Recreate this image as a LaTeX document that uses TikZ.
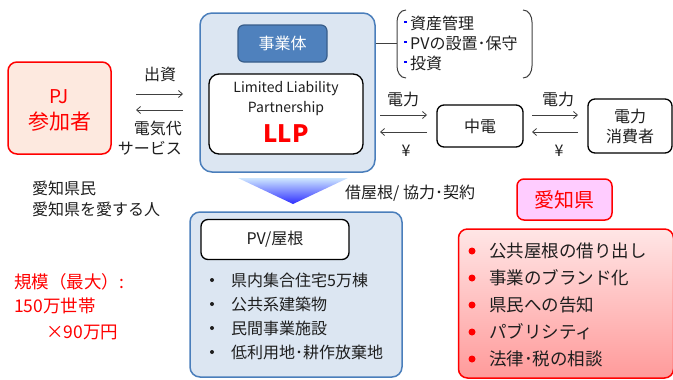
\documentclass[tikz,border=0pt]{standalone}
\usepackage{fontspec}
\setmainfont{Noto Sans CJK JP}
\usetikzlibrary{arrows.meta}
\definecolor{txt}{HTML}{1E1E1E}
\definecolor{arrgray}{HTML}{404040}
\definecolor{bluefill}{HTML}{DCE6F2}
\definecolor{blueline}{HTML}{4A7EBB}
\definecolor{jigyofill}{HTML}{4F81BD}
\definecolor{jigyoline}{HTML}{385D8A}
\definecolor{pjfill}{HTML}{FDE9DF}
\definecolor{aichifill}{HTML}{FFCCFF}
\definecolor{redtop}{HTML}{FFE6E6}
\definecolor{redbot}{HTML}{FF9A9A}
\definecolor{tritop}{HTML}{CDE6FF}
\definecolor{tribot}{HTML}{2E2EFF}
\begin{document}
\begin{tikzpicture}[x=1pt,y=-1pt,
  every node/.style={font=\fontsize{16}{19}\selectfont, text=txt, inner sep=0pt},
  arr/.style={draw=arrgray, line width=0.8pt, -{Straight Barb[length=4pt,width=7pt]}},
  blackbox/.style={draw=black, line width=1.3pt, rounded corners=7pt, fill=white},
  bluebox/.style={draw=blueline, line width=1.5pt, rounded corners=12pt, fill=bluefill},
  redbullet/.style={circle, fill=red, minimum size=7pt},
  blkbullet/.style={circle, fill=txt, minimum size=4pt},
  bluesq/.style={rectangle, fill=blue, minimum size=2.6pt},
  redtext/.style={text=red}
]
\path[use as bounding box] (0,0) rectangle (673,380);

% PJ participant
\node[draw=red, line width=1.5pt, rounded corners=9pt, fill=pjfill,
      minimum width=103pt, minimum height=92pt] (pj) at (59.5,108) {};
\node[redtext, font=\fontsize{19}{22}\selectfont] (pjt1) at (59.5,97) {PJ};
\node[redtext, font=\fontsize{21}{24}\selectfont] (pjt2) at (59.5,122) {参加者};

% main LLP box
\node[bluebox, minimum width=175pt, minimum height=159pt] (main) at (287.5,92.5) {};
\node[draw=jigyoline, line width=1.2pt, fill=jigyofill, rounded corners=6pt,
      minimum width=89pt, minimum height=37pt, text=white] (jigyo) at (282.5,43.5) {事業体};
\node[blackbox, rounded corners=10pt, minimum width=154pt, minimum height=80pt] (llp) at (286,114) {};
\node[font=\fontsize{14}{16}\selectfont] (llpt1) at (286,89) {Limited Liability};
\node[font=\fontsize{14}{16}\selectfont] (llpt2) at (286,109) {Partnership};
\node[redtext, font=\fontsize{24}{26}\bfseries] (llpt3) at (286,134) {LLP};

% arrows PJ <-> main
\coordinate (a1s) at (136,94); \coordinate (a1e) at (183,94);
\coordinate (a2s) at (183,110); \coordinate (a2e) at (136,110);
\draw[arr] (a1s) -- (a1e);
\draw[arr] (a2s) -- (a2e);
\node (shushi) at (160,74) {出資};
\node[anchor=east, align=right] (denki) at (182,138) {電気代\\[1pt]サービス};

% bracket list
\coordinate (brl) at (397,43);
\draw[draw=arrgray, line width=1pt] (main.east |- brl) -- (brl);
\draw[draw=arrgray, line width=1pt] (406,10) to[out=180,in=90] (397,22) -- (397,66) to[out=-90,in=180] (406,78);
\draw[draw=arrgray, line width=1pt] (523,10) to[out=0,in=90] (532,22) -- (532,66) to[out=-90,in=0] (523,78);
\node[bluesq] (q1) at (405.5,22) {};
\node[bluesq] (q2) at (405.5,42) {};
\node[bluesq] (q3) at (405.5,62) {};
\node[anchor=west] (b1) at (410,23) {資産管理};
\node[anchor=west] (b2) at (410,43) {PVの設置･保守};
\node[anchor=west] (b3) at (410,63) {投資};

% Chuden
\node[blackbox, minimum width=86pt, minimum height=42pt] (chuden) at (480,126) {中電};
\node[blackbox, minimum width=84pt, minimum height=54pt, align=center, font=\fontsize{16}{20}\selectfont] (cons) at (630,126) {電力\\消費者};

\coordinate (c1s) at (380,115); \coordinate (c1e) at (427,115);
\coordinate (c2s) at (427,132); \coordinate (c2e) at (380,132);
\draw[arr] (c1s) -- (c1e);
\draw[arr] (c2s) -- (c2e);
\node (den1) at (403,99) {電力};
\node (yen1) at (406,151) {¥};

\coordinate (d1s) at (532,115); \coordinate (d1e) at (578,115);
\coordinate (d2s) at (578,132); \coordinate (d2e) at (532,132);
\draw[arr] (d1s) -- (d1e);
\draw[arr] (d2s) -- (d2e);
\node (den2) at (558,99) {電力};
\node (yen2) at (559,151) {¥};

% triangle
\shade[top color=tritop, bottom color=tribot] (238,178) -- (348,178) -- (293,204) -- cycle;
\node[anchor=west] (shaku) at (345,193) {借屋根/ 協力･契約};

% left texts
\node[anchor=west] (kenmin1) at (32,188) {愛知県民};
\node[anchor=west] (kenmin2) at (32,209) {愛知県を愛する人};
\node[anchor=west, redtext, font=\fontsize{17.5}{20}\selectfont] (kibo1) at (14,282) {規模（最大）:};
\node[anchor=west, redtext, font=\fontsize{17.5}{20}\selectfont] (kibo2) at (14,306) {150万世帯};
\node[anchor=west, redtext, font=\fontsize{17.5}{20}\selectfont] (kibo3) at (46,332) {×90万円};

% PV roof box
\node[bluebox, rounded corners=10pt, minimum width=212pt, minimum height=165pt] (pv) at (296,294.5) {};
\node[blackbox, minimum width=148pt, minimum height=40pt] (pvt) at (275,239.5) {PV/屋根};
\node[blkbullet] (p1) at (212,280) {};
\node[blkbullet] (p2) at (212,304) {};
\node[blkbullet] (p3) at (212,328) {};
\node[blkbullet] (p4) at (212,352) {};
\node[anchor=west] (pt1) at (231,280) {県内集合住宅5万棟};
\node[anchor=west] (pt2) at (231,304) {公共系建築物};
\node[anchor=west] (pt3) at (231,328) {民間事業施設};
\node[anchor=west] (pt4) at (231,352) {低利用地･耕作放棄地};

% Aichi
\node[draw=red, line width=1.5pt, fill=aichifill, rounded corners=7pt,
      minimum width=95pt, minimum height=41pt, redtext, font=\fontsize{20}{23}\selectfont] (aichi) at (564.5,199.5) {愛知県};
\node[draw=red, line width=1.5pt, top color=redtop, bottom color=redbot, rounded corners=9pt,
      minimum width=215pt, minimum height=149pt] (redbox) at (566,303.5) {};
\node[redbullet] (r1) at (472,251) {};
\node[redbullet] (r2) at (472,278) {};
\node[redbullet] (r3) at (472,305) {};
\node[redbullet] (r4) at (472,332) {};
\node[redbullet] (r5) at (472,359) {};
\node[anchor=west, font=\fontsize{17.5}{20}\selectfont] (rt1) at (489,251) {公共屋根の借り出し};
\node[anchor=west, font=\fontsize{17.5}{20}\selectfont] (rt2) at (489,278) {事業のブランド化};
\node[anchor=west, font=\fontsize{17.5}{20}\selectfont] (rt3) at (489,305) {県民への告知};
\node[anchor=west, font=\fontsize{17.5}{20}\selectfont] (rt4) at (489,332) {パブリシティ};
\node[anchor=west, font=\fontsize{17.5}{20}\selectfont] (rt5) at (489,359) {法律･税の相談};
\end{tikzpicture}
\end{document}
